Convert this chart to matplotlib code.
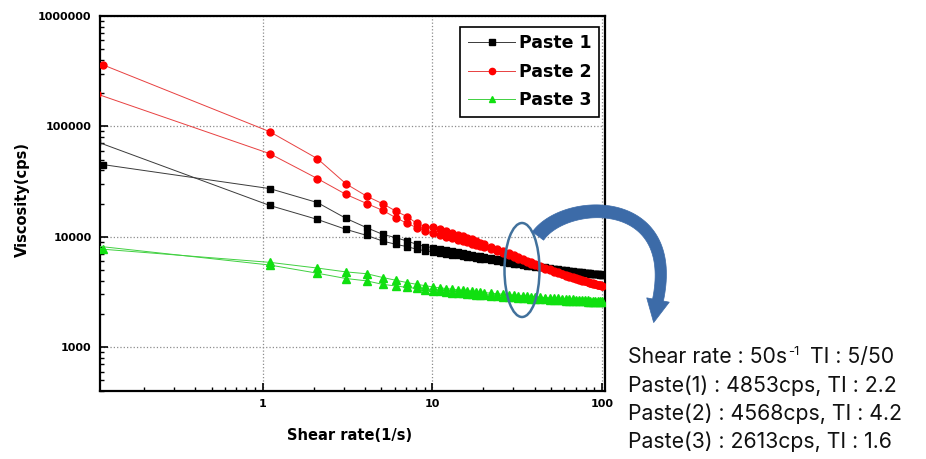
import matplotlib
matplotlib.use("Agg")
import numpy as np
import matplotlib.pyplot as plt
from matplotlib.patches import Ellipse, Polygon
from matplotlib.ticker import FixedLocator, LogLocator, NullFormatter

# shear rate sweep (1/s); first point of the second sweep sits just left of the axis
shear_a = [0.115, 1.1, 2.1, 3.1, 4.1, 5.1, 6.1, 7.1, 8.1, 9.1,
           10.1, 11.1, 12.1, 13.1, 14.1, 15.1, 16.1, 17.1, 18.1, 19.1, 20.1,
           22.1, 24.1, 26.1, 28.1, 30.1, 32.1, 34.1, 36.1, 38.1, 40.1,
           43.1, 46.1, 49.1, 52.1, 55.1, 58.1, 61.1, 64.1, 67.1, 70.1,
           73.1, 76.1, 79.1, 82.1, 85.1, 88.1, 91.1, 94.1, 97.1, 100]
shear_b = [0.105] + shear_a[1:]

# viscosity (cps)
paste1_a = [45000, 27300, 20400, 14650, 12070, 10500, 9800, 9130, 8530, 8150,
            7950, 7750, 7560, 7380, 7220, 7080, 6950, 6830, 6720, 6620, 6530,
            6370, 6230, 6100, 5980, 5870, 5770, 5680, 5600, 5520, 5450,
            5370, 5280, 5210, 5140, 5080, 5030, 4980, 4930, 4880, 4840,
            4800, 4760, 4730, 4700, 4670, 4640, 4610, 4580, 4550, 4520]
paste1_b = [72700, 19200, 14350, 11650, 10280, 9130, 8530, 8130, 7690, 7450,
            7250, 7120, 7000, 6880, 6780, 6680, 6580, 6490, 6400, 6320, 6250,
            6120, 6000, 5890, 5790, 5700, 5620, 5540, 5470, 5400, 5340,
            5270, 5200, 5130, 5070, 5020, 4970, 4920, 4880, 4840, 4800,
            4760, 4730, 4700, 4670, 4640, 4610, 4580, 4560, 4530, 4500]
paste2_a = [360000, 89500, 51000, 30100, 23300, 19870, 17050, 15200, 13200, 12330,
            12200, 11700, 11250, 10850, 10450, 10100, 9750, 9450, 9150, 8850, 8600,
            8150, 7750, 7400, 7080, 6790, 6520, 6280, 6060, 5860, 5680,
            5440, 5230, 5050, 4890, 4750, 4620, 4500, 4390, 4290, 4200,
            4120, 4040, 3970, 3900, 3840, 3780, 3730, 3680, 3640, 3600]
paste2_b = [197000, 56600, 33650, 24150, 20000, 17300, 14850, 13200, 12070, 11240,
            10700, 10350, 10000, 9700, 9420, 9150, 8900, 8670, 8450, 8240, 8040,
            7680, 7350, 7050, 6780, 6530, 6300, 6090, 5890, 5710, 5550,
            5330, 5140, 4970, 4820, 4680, 4560, 4450, 4340, 4250, 4160,
            4080, 4010, 3940, 3880, 3820, 3760, 3710, 3670, 3630, 3590]
paste3_a = [7700, 5860, 5200, 4800, 4620, 4270, 4030, 3840, 3700, 3600,
            3500, 3440, 3390, 3340, 3300, 3260, 3230, 3200, 3170, 3140, 3120,
            3080, 3040, 3010, 2980, 2950, 2930, 2910, 2890, 2870, 2850,
            2830, 2810, 2790, 2770, 2760, 2740, 2730, 2720, 2700, 2690,
            2680, 2670, 2660, 2650, 2640, 2630, 2620, 2610, 2600, 2590]
paste3_b = [8230, 5540, 4670, 4180, 3980, 3700, 3580, 3470, 3400, 3320,
            3240, 3200, 3160, 3120, 3090, 3060, 3030, 3010, 2990, 2970, 2950,
            2920, 2890, 2860, 2840, 2820, 2800, 2780, 2760, 2750, 2730,
            2710, 2700, 2680, 2670, 2660, 2650, 2640, 2630, 2620, 2610,
            2600, 2600, 2590, 2580, 2570, 2570, 2560, 2550, 2550, 2540]

info_lines = ["Paste(1) : 4853cps, TI : 2.2",
              "Paste(2) : 4568cps, TI : 4.2",
              "Paste(3) : 2613cps, TI : 1.6"]

W, H = 926, 459
fig = plt.figure(figsize=(W / 100, H / 100), dpi=100, facecolor="white")
ax = fig.add_axes([100 / W, 1 - 391 / H, 505 / W, 375 / H])

lab = dict(family="DejaVu Sans", weight="bold")

styles = [
    ("Paste 1", paste1_a, paste1_b, "#3a3a3a", "black", "s", 4.6),
    ("Paste 2", paste2_a, paste2_b, "#e84040", "red", "o", 5.0),
    ("Paste 3", paste3_a, paste3_b, "#40d040", "#10e010", "^", 6.2),
]
for name, ya, yb, lc, mc, mk, ms in styles:
    ax.plot(shear_a, ya, color=lc, lw=0.7, marker=mk, ms=ms,
            mfc=mc, mec=mc, label=name, zorder=3)
    ax.plot(shear_b, yb, color=lc, lw=0.7, marker=mk, ms=ms,
            mfc=mc, mec=mc, zorder=3)

ax.set_xscale("log")
ax.set_yscale("log")
ax.set_xlim(0.11, 104)
ax.set_ylim(400, 1e6)

ax.xaxis.set_major_locator(FixedLocator([1, 10, 100]))
ax.set_xticklabels(["1", "10", "100"])
ax.xaxis.set_minor_locator(LogLocator(base=10, subs=range(2, 10), numticks=20))
ax.xaxis.set_minor_formatter(NullFormatter())
ax.yaxis.set_major_locator(FixedLocator([1e3, 1e4, 1e5, 1e6]))
ax.set_yticklabels(["1000", "10000", "100000", "1000000"])
ax.yaxis.set_minor_locator(LogLocator(base=10, subs=range(2, 10), numticks=20))
ax.yaxis.set_minor_formatter(NullFormatter())

ax.tick_params(which="major", direction="in", length=5.5, width=1.2,
               labelsize=8, pad=6, top=False, right=False)
ax.tick_params(which="minor", direction="in", length=3.2, width=1.0,
               top=False, right=False)
for t in ax.get_xticklabels() + ax.get_yticklabels():
    t.set_fontweight("bold")
    t.set_family("DejaVu Sans")

for s in ax.spines.values():
    s.set_linewidth(1.6)

ax.grid(True, which="major", color="#8c8c8c", linestyle=":", linewidth=0.9)

ax.set_xlabel("Shear rate(1/s)", fontsize=10.5, **lab)
ax.set_ylabel("Viscosity(cps)", fontsize=10.5, **lab)
ax.xaxis.set_label_coords(0.495, -0.10)
ax.yaxis.set_label_coords(-0.138, 0.51)

leg = ax.legend(loc="upper right", bbox_to_anchor=(0.988, 0.972), borderaxespad=0,
                frameon=True, fancybox=False, edgecolor="black", framealpha=1,
                prop=dict(family="DejaVu Sans", weight="bold", size=12.5),
                handlelength=2.7, handletextpad=0.2, labelspacing=0.6,
                borderpad=0.45, numpoints=1)
leg.get_frame().set_linewidth(1.2)
for h in leg.legend_handles:
    h.set_markersize(4.5)

# ellipse around the crossing point
ell = Ellipse((522 / W, 1 - 270 / H), 35 / W, 94 / H, transform=fig.transFigure,
              fill=False, edgecolor="#41719c", lw=1.8, zorder=5)
fig.patches.append(ell)

# curved block arrow (figure pixels, y down)
p0, p1, p2, p3 = map(np.array, [(538, 236), (565, 198), (680, 193), (658, 300)])
tt = np.linspace(0, 1, 80)[:, None]
ctr = ((1 - tt) ** 3) * p0 + 3 * ((1 - tt) ** 2) * tt * p1 + 3 * (1 - tt) * tt ** 2 * p2 + tt ** 3 * p3
tan = np.gradient(ctr, axis=0)
tan /= np.linalg.norm(tan, axis=1)[:, None]
nrm = np.column_stack([-tan[:, 1], tan[:, 0]])
half = np.linspace(7, 5.5, len(tt))[:, None]
d = tan[-1]
n = np.array([-d[1], d[0]])
head = [p3 + n * 11.5, p3 + d * 23, p3 - n * 11.5]
pts = np.vstack([ctr + nrm * half, head, (ctr - nrm * half)[::-1]])
pts = np.column_stack([pts[:, 0] / W, 1 - pts[:, 1] / H])
fig.patches.append(Polygon(pts, closed=True, transform=fig.transFigure,
                           facecolor="#3c6ba8", edgecolor="#3c6ba8", lw=0.5, zorder=6))

# summary text at the right
tfont = dict(family=["Inter", "DejaVu Sans"], size=15.3, color="#111111")
x0 = 628 / W
t1 = fig.text(x0, 1 - 363 / H, "Shear rate : 50s", va="baseline", ha="left", **tfont)
fig.canvas.draw()
r = fig.canvas.get_renderer()
bb = t1.get_window_extent(r)
sup = fig.text(bb.x1 / W + 1 / W, 1 - 355 / H, "-1", va="baseline", ha="left",
               family=["Inter", "DejaVu Sans"], size=9.5, color="#111111")
bb2 = sup.get_window_extent(r)
fig.text(bb2.x1 / W + 11 / W, 1 - 363 / H, "TI : 5/50", va="baseline", ha="left", **tfont)
for i, line in enumerate(info_lines):
    fig.text(x0, 1 - (391.5 + 28.4 * i) / H, line, va="baseline", ha="left", **tfont)

fig.savefig("out.png", dpi=100, facecolor="white")
